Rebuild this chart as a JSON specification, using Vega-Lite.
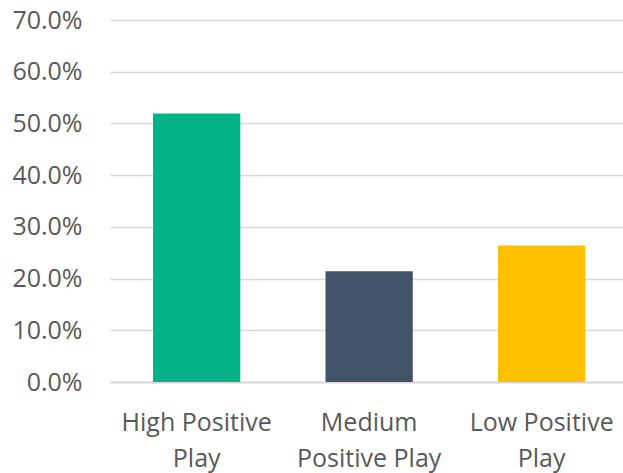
{
  "$schema": "https://vega.github.io/schema/vega-lite/v6.json",
  "width": 513,
  "height": 362,
  "autosize": {"type": "none"},
  "padding": {"left": 110, "top": 20, "right": 0, "bottom": 91},
  "background": "white",
  "data": {
    "values": [
      {"category": "High Positive Play", "value": 0.519},
      {"category": "Medium Positive Play", "value": 0.214},
      {"category": "Low Positive Play", "value": 0.264}
    ]
  },
  "mark": {"type": "bar"},
  "encoding": {
    "x": {
      "field": "category",
      "type": "nominal",
      "sort": null,
      "scale": {"paddingInner": 0.494, "paddingOuter": 0.234, "align": 0.533},
      "axis": {
        "title": null,
        "labelAngle": 0,
        "labelFont": "Open Sans",
        "labelFontSize": 25,
        "labelColor": "#595959",
        "labelPadding": 28,
        "labelLineHeight": 36,
        "labelBaseline": "top",
        "ticks": false,
        "domainColor": "#d9d9d9",
        "domainWidth": 2,
        "labelExpr": "datum.label == 'High Positive Play' ? ['High Positive', 'Play'] : datum.label == 'Medium Positive Play' ? ['Medium', 'Positive Play'] : ['Low Positive', 'Play']"
      }
    },
    "y": {
      "field": "value",
      "type": "quantitative",
      "scale": {"domain": [0, 0.7]},
      "axis": {
        "title": null,
        "format": ".1%",
        "values": [0, 0.1, 0.2, 0.3, 0.4, 0.5, 0.6, 0.7],
        "labelFont": "Open Sans",
        "labelFontSize": 25,
        "labelColor": "#595959",
        "labelPadding": 28,
        "ticks": false,
        "domain": false,
        "gridColor": "#d9d9d9",
        "gridWidth": 1.5
      }
    },
    "color": {
      "field": "category",
      "type": "nominal",
      "scale": {
        "domain": ["High Positive Play", "Medium Positive Play", "Low Positive Play"],
        "range": ["#02B388", "#425369", "#FFC000"]
      },
      "legend": null
    }
  },
  "config": {"view": {"stroke": null}}
}
